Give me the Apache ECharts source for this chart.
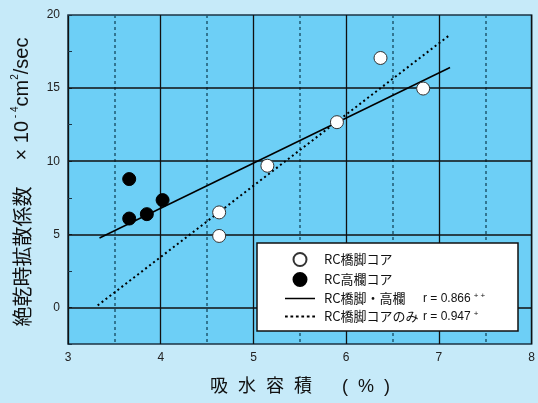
<!DOCTYPE html>
<html>
<head>
<meta charset="utf-8">
<script src="https://cdn.jsdelivr.net/npm/echarts@6/dist/echarts.min.js"></script>
<style>
  html, body { margin: 0; padding: 0; background: #c6eaf9; }
  #chart { width: 538px; height: 403px; }
</style>
</head>
<body>
<div id="chart"></div>
<script>
// Water absorption (%) vs. absolute-dry diffusion coefficient (×10^-4 cm^2/sec)
const pierCores = [        // RC橋脚コア
  [4.63, 6.50], [4.63, 4.89], [5.15, 9.69],
  [5.90, 12.67], [6.37, 17.06], [6.83, 14.97]
];
const railCores = [        // RC高欄コア
  [3.66, 8.78], [3.66, 6.08], [3.85, 6.38], [4.02, 7.34]
];
const fitAll = [[3.34, 4.75], [7.12, 16.41]];     // RC橋脚・高欄  r = 0.866++
const fitPier = [[3.32, 0.14], [7.12, 18.65]];    // RC橋脚コアのみ r = 0.947+

const xTicks = [3, 4, 5, 6, 7, 8];
const yMajor = [0, 5, 10, 15];
const seriesNames = ['RC橋脚コア', 'RC高欄コア', 'RC橋脚・高欄', 'RC橋脚コアのみ'];
const rValues = { 'RC橋脚・高欄': ['r = 0.866', '+ +'], 'RC橋脚コアのみ': ['r = 0.947', '+'] };

const latin = '"Liberation Sans Narrow", "Liberation Sans", Arial, sans-serif';
const cjk = '"Noto Sans CJK JP", "Liberation Sans", sans-serif';

// legend glyphs for the two fitted lines (solid and dotted strokes)
const solidIcon = 'path://M0,0H30V1.5H0Z';
const dottedIcon = 'path://' + Array.from({ length: 6 }, (_, i) =>
  'M' + (i * 5) + ',0h2.5v1.8h-2.5z').join('');

const chart = echarts.init(document.getElementById('chart'), null, { renderer: 'canvas' });

chart.setOption({
  animation: false,
  backgroundColor: '#c6eaf9',
  grid: {
    left: 68, top: 15, right: 0, bottom: 59,
    show: true, backgroundColor: '#6dcff6',
    borderColor: '#1c3444', borderWidth: 1.5
  },
  xAxis: {
    type: 'value', min: xTicks[0], max: xTicks[xTicks.length - 1], interval: 1,
    axisLine: { show: false },
    axisTick: { show: false },
    axisLabel: { margin: 8, color: '#222', fontSize: 12, fontFamily: latin },
    splitLine: { show: true, lineStyle: { color: '#111', width: 1.3 } },
    minorTick: { show: false, splitNumber: 2 },
    minorSplitLine: { show: true, lineStyle: { color: '#1f5a72', width: 1.5, type: [3, 3] } }
  },
  yAxis: {
    type: 'value', min: -2.5, max: 20, interval: 2.5,
    axisLine: { show: false },
    axisTick: { show: true, inside: true, length: 4, lineStyle: { color: '#1c3444', width: 1 } },
    axisLabel: {
      margin: 8, color: '#222', fontSize: 12, fontFamily: latin,
      formatter: v => (v % 5 === 0 && v >= 0) ? String(v) : ''
    },
    splitLine: { show: false }
  },
  legend: {
    orient: 'vertical', left: 285, top: 252, padding: 0,
    itemWidth: 30, itemHeight: 13, itemGap: 5,
    data: [
      { name: seriesNames[0] },
      { name: seriesNames[1] },
      { name: seriesNames[2], icon: solidIcon },
      { name: seriesNames[3], icon: dottedIcon }
    ],
    z: 20,
    selectedMode: false,
    formatter: name => {
      if (rValues[name]) {
        return '{n|' + name + '}{r|' + rValues[name][0] + '}{s|' + rValues[name][1] + '}';
      }
      return '{n|' + name + '}';
    },
    textStyle: {
      color: '#111',
      rich: {
        n: { fontSize: 13, fontFamily: cjk, width: 99, color: '#111', padding: [0, 0, 0, 4] },
        r: { fontSize: 12, fontFamily: latin, color: '#111' },
        s: { fontSize: 8, fontFamily: latin, color: '#111', verticalAlign: 'top', padding: [0, 0, 0, 3] }
      }
    }
  },
  graphic: [
    {
      type: 'rect', z: 10,
      shape: { x: 257, y: 243, width: 261, height: 88 },
      style: { fill: '#ffffff', stroke: '#111', lineWidth: 1.5 }
    },
    {
      type: 'text', z: 10,
      x: 22, y: 182, rotation: Math.PI / 2,
      style: {
        text: '{j|絶乾時拡散係数}{g|}{l|× 10}{s| - 4}{l|cm}{s|2}{l|/sec}',
        align: 'center', verticalAlign: 'middle',
        rich: {
          j: { fontSize: 20, fontFamily: cjk, fill: '#111', lineHeight: 24 },
          g: { width: 26 },
          l: { fontSize: 20, fontFamily: latin, fill: '#111', lineHeight: 24 },
          s: { fontSize: 10, fontFamily: latin, fill: '#111', verticalAlign: 'top', lineHeight: 12 }
        }
      }
    },
    {
      type: 'text', z: 10,
      x: 300, y: 387,
      style: {
        text: '吸  水  容  積      (  %  )',
        align: 'center', verticalAlign: 'middle',
        font: '18px "Liberation Sans", "Noto Sans CJK JP", sans-serif',
        fill: '#111'
      }
    }
  ],
  series: [
    {
      name: seriesNames[0], type: 'scatter', data: pierCores, z: 6,
      symbol: 'circle', symbolSize: 13,
      itemStyle: { color: '#ffffff', borderColor: '#333', borderWidth: 1, opacity: 1 },
      markLine: {
        silent: true, symbol: 'none', label: { show: false }, z: 1,
        lineStyle: { color: '#111', width: 1.5, type: 'solid' },
        data: yMajor.map(v => ({ yAxis: v }))
      }
    },
    {
      name: seriesNames[1], type: 'scatter', data: railCores, z: 6,
      symbol: 'circle', symbolSize: 13,
      itemStyle: { color: '#000000', borderColor: '#000', borderWidth: 1, opacity: 1 }
    },
    {
      name: seriesNames[2], type: 'line', data: fitAll, z: 5,
      symbol: 'none', showSymbol: false,
      lineStyle: { color: '#000', width: 1.5, type: 'solid' },
      itemStyle: { color: '#000' }
    },
    {
      name: seriesNames[3], type: 'line', data: fitPier, z: 5,
      symbol: 'none', showSymbol: false,
      lineStyle: { color: '#000', width: 2, type: [2, 3] },
      itemStyle: { color: '#000' }
    }
  ]
});
</script>
</body>
</html>
